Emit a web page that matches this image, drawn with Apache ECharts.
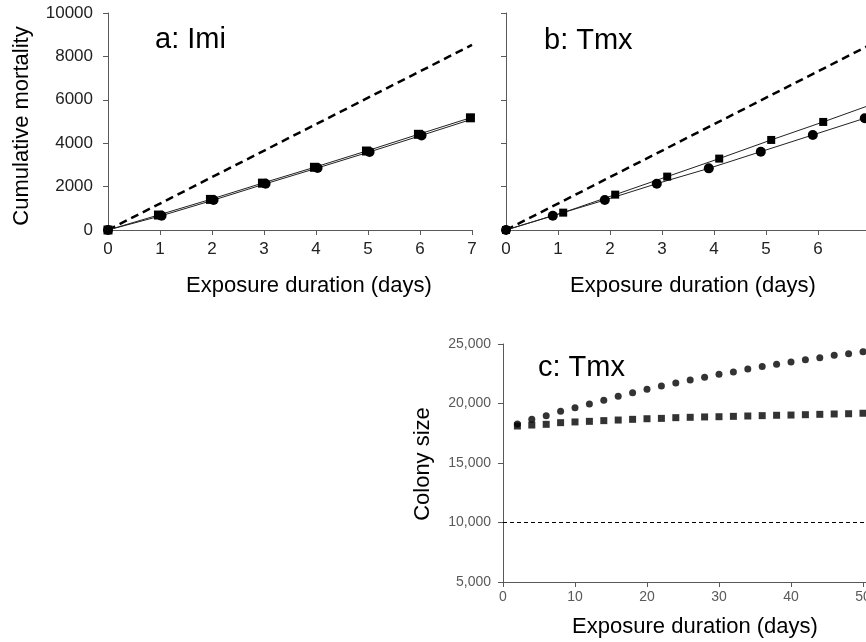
<!DOCTYPE html>
<html><head><meta charset="utf-8">
<script src="https://cdn.jsdelivr.net/npm/echarts@6/dist/echarts.min.js"></script>
<style>html,body{margin:0;padding:0;background:#fff}#c{width:866px;height:642px}</style>
</head><body><div id="c"></div>
<script>
// ---- data ----
const imiCircleDays = [0,1.03,2.03,3.03,4.03,5.03,6.03,7.03];
const imiCircle = [0,660,1380,2130,2860,3600,4360,5130];
const imiSquareDays = [0,0.97,1.97,2.97,3.97,4.97,5.97,6.97];
const imiSquare = [0,690,1410,2160,2890,3640,4410,5170];
const expectedDays = [0,7];
const expectedMort = [0,8530];
const tmxCircleDays = [0,0.9,1.9,2.9,3.9,4.9,5.9,6.9];
const tmxCircle = [0,660,1380,2135,2840,3610,4380,5150];
const tmxSquareDays = [0,1.1,2.1,3.1,4.1,5.1,6.1,7.1];
const tmxSquare = [0,800,1630,2460,3290,4150,4980,5840];
const colonyDays = [2,4,6,8,10,12,14,16,18,20,22,24,26,28,30,32,34,36,38,40,42,44,46,48,50];
const colonyCircle = [18280,18670,18980,19340,19650,19960,20270,20600,20910,21190,21470,21720,21970,22200,22450,22650,22900,23100,23290,23490,23680,23850,24050,24190,24350];
const colonySquare = [18110,18190,18250,18390,18450,18500,18560,18610,18670,18720,18750,18810,18840,18870,18890,18920,18950,18980,19010,19030,19060,19090,19120,19140,19180];
const thresholdDays = [0,60];
const thresholdSize = [10000,10000];
const panelTitles = ['a: Imi','b: Tmx','c: Tmx'];
const xName = 'Exposure duration (days)';
const yNameTop = 'Cumulative mortality';
const yNameBottom = 'Colony size';

const zip = (xs, ys) => xs.map((x,i)=>[x, ys[i]]);
const FONT = "'Liberation Sans', Arial, sans-serif";
const AX = '#595959';

function axisBase(extra){
  return Object.assign({
    type:'value',
    axisLine:{show:true,lineStyle:{color:AX,width:1}},
    axisTick:{show:true,length:5,inside:false,lineStyle:{color:AX}},
    splitLine:{show:false},
    axisLabel:{fontFamily:FONT,fontSize:17,color:'#222',margin:11,formatter:v=>String(v)}
  }, extra);
}

const chart = echarts.init(document.getElementById('c'));
chart.setOption({
  animation:false,
  backgroundColor:'#fff',
  title: [
    {text:panelTitles[0], left:150, top:20, textStyle:{fontFamily:FONT,fontSize:29,fontWeight:'normal',color:'#000'}},
    {text:panelTitles[1], left:539, top:21, textStyle:{fontFamily:FONT,fontSize:29,fontWeight:'normal',color:'#000'}},
    {text:panelTitles[2], left:533, top:348, textStyle:{fontFamily:FONT,fontSize:29,fontWeight:'normal',color:'#000'}}
  ],
  grid: [
    {left:108, top:13, width:364, height:217, outerBoundsMode:'none', containLabel:false},
    {left:506, top:13, width:416, height:217, outerBoundsMode:'none', containLabel:false},
    {left:503, top:344, width:432, height:238, outerBoundsMode:'none', containLabel:false}
  ],
  xAxis: [
    axisBase({gridIndex:0, min:0, max:7, interval:1}),
    axisBase({gridIndex:1, min:0, max:8, interval:1}),
    axisBase({gridIndex:2, min:0, max:60, interval:10, axisLabel:{fontFamily:FONT,fontSize:14,color:'#595959',margin:8}})
  ],
  yAxis: [
    axisBase({gridIndex:0, min:0, max:10000, interval:2000, axisLabel:{fontFamily:FONT,fontSize:17,color:'#222',margin:15,formatter:v=>String(v)}}),
    axisBase({gridIndex:1, min:0, max:10000, interval:2000, axisLabel:{show:false}}),
    axisBase({gridIndex:2, min:5000, max:25000, interval:5000,
      axisLabel:{fontFamily:FONT,fontSize:14,color:'#595959',margin:12,
        formatter:v=>v.toLocaleString('en-US')}})
  ],
  graphic: [
    {type:'text', x:22, y:126, rotation:Math.PI/2, style:{text:yNameTop, font:'22px '+FONT, fill:'#000', align:'center', verticalAlign:'middle'}},
    {type:'text', x:423, y:464, rotation:Math.PI/2, style:{text:yNameBottom, font:'22px '+FONT, fill:'#000', align:'center', verticalAlign:'middle'}},
    {type:'text', x:309, y:286, style:{text:xName, font:'22px '+FONT, fill:'#000', align:'center', verticalAlign:'middle'}},
    {type:'text', x:693, y:286, style:{text:xName, font:'22px '+FONT, fill:'#000', align:'center', verticalAlign:'middle'}},
    {type:'text', x:695, y:627, style:{text:xName, font:'22px '+FONT, fill:'#000', align:'center', verticalAlign:'middle'}}
  ],
  series: [
    {type:'line', xAxisIndex:0, yAxisIndex:0, data:zip(expectedDays, expectedMort), symbol:'none',
      lineStyle:{color:'#000', width:2.5, type:[8,5]}},
    {type:'line', xAxisIndex:0, yAxisIndex:0, data:zip(imiSquareDays, imiSquare), symbol:'rect', symbolSize:9,
      itemStyle:{color:'#000'}, lineStyle:{color:'#222', width:1}},
    {type:'line', xAxisIndex:0, yAxisIndex:0, data:zip(imiCircleDays, imiCircle), symbol:'circle', symbolSize:10,
      itemStyle:{color:'#000'}, lineStyle:{color:'#222', width:1}},
    {type:'line', xAxisIndex:1, yAxisIndex:1, data:zip(expectedDays, expectedMort), symbol:'none',
      lineStyle:{color:'#000', width:2.5, type:[8,5]}},
    {type:'line', xAxisIndex:1, yAxisIndex:1, data:zip(tmxSquareDays, tmxSquare), symbol:'rect', symbolSize:8,
      itemStyle:{color:'#000'}, lineStyle:{color:'#222', width:1}},
    {type:'line', xAxisIndex:1, yAxisIndex:1, data:zip(tmxCircleDays, tmxCircle), symbol:'circle', symbolSize:10,
      itemStyle:{color:'#000'}, lineStyle:{color:'#222', width:1}},
    {type:'line', xAxisIndex:2, yAxisIndex:2, data:zip(thresholdDays, thresholdSize), symbol:'none',
      lineStyle:{color:'#000', width:1.2, type:[4,3]}},
    {type:'scatter', xAxisIndex:2, yAxisIndex:2, data:zip(colonyDays, colonySquare), symbol:'rect', symbolSize:7,
      itemStyle:{color:'#000'}},
    {type:'scatter', xAxisIndex:2, yAxisIndex:2, data:zip(colonyDays, colonyCircle), symbol:'circle', symbolSize:7,
      itemStyle:{color:'#000'}}
  ]
});
</script>
</body></html>
